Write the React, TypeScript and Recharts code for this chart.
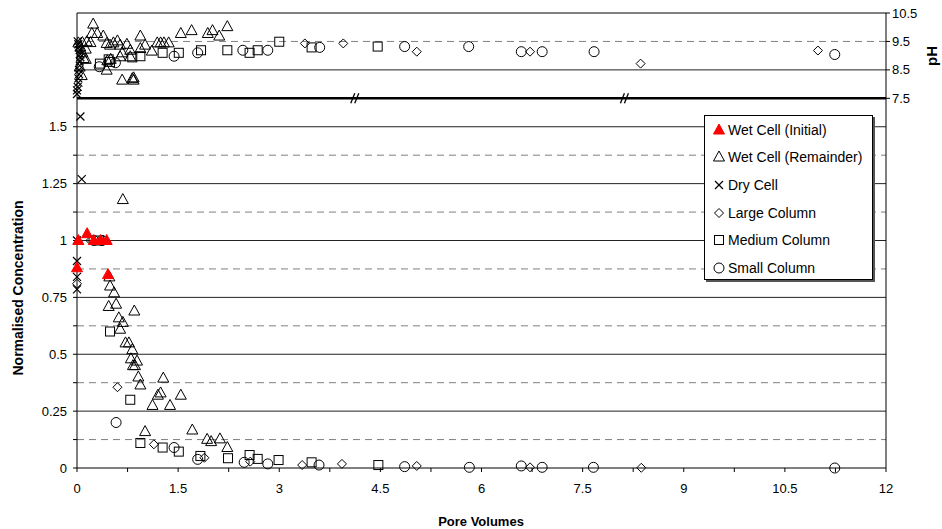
import React from 'react';
import { ScatterChart, Scatter, XAxis, YAxis, ReferenceLine, ReferenceDot } from 'recharts';

type Pt = [number, number];

// x ticks every 0.75, labelled every 1.5
const xTicks = [0, 0.75, 1.5, 2.25, 3, 3.75, 4.5, 5.25, 6, 6.75, 7.5, 8.25, 9, 9.75, 10.5, 11.25, 12];
const concTicks = [0, 0.125, 0.25, 0.375, 0.5, 0.625, 0.75, 0.875, 1, 1.125, 1.25, 1.375, 1.5];
const phTicks = [7.5, 8.5, 9.5, 10.5];
const concSolid = [0.25, 0.5, 0.75, 1, 1.25, 1.5];
const concDashed = [0.125, 0.375, 0.625, 0.875, 1.125, 1.375];
const breakMarks = [4.12, 8.12];

// normalised concentration (bottom panel)
const wetInitialConc: Pt[] = [[0.02, 1.0], [0.15, 1.03], [0.25, 1.0], [0.35, 1.0], [0.44, 1.0], [0, 0.88], [0.46, 0.85]];
const wetRemainderConc: Pt[] = [
  [0.68, 1.18], [0.48, 0.84], [0.49, 0.8], [0.55, 0.77], [0.47, 0.71], [0.58, 0.72], [0.85, 0.69], [0.62, 0.66],
  [0.68, 0.64], [0.64, 0.61], [0.72, 0.55], [0.77, 0.55], [0.82, 0.52], [0.8, 0.48], [0.89, 0.47], [0.83, 0.45],
  [0.86, 0.45], [0.91, 0.4], [1.28, 0.395], [0.94, 0.365], [1.24, 0.33], [1.2, 0.32], [1.54, 0.32], [1.12, 0.275],
  [1.38, 0.275], [1.01, 0.16], [1.71, 0.167], [1.93, 0.126], [1.99, 0.116], [2.12, 0.128], [2.23, 0.09],
];
const dryConc: Pt[] = [[0.05, 1.545], [0.07, 1.27], [0, 1.0], [0, 0.91], [0, 0.84], [0, 0.785]];
const largeConc: Pt[] = [
  [0, 0.81], [0.2, 1.0], [0.6, 0.355], [1.14, 0.104], [1.89, 0.045], [2.57, 0.028], [3.34, 0.013], [3.93, 0.018],
  [5.04, 0.009], [6.72, 0.003], [8.37, 0.001],
];
const mediumConc: Pt[] = [
  [0.33, 1.0], [0.49, 0.6], [0.79, 0.3], [0.94, 0.11], [1.27, 0.09], [1.51, 0.072], [1.83, 0.053], [2.24, 0.043],
  [2.56, 0.057], [2.68, 0.04], [2.99, 0.035], [3.48, 0.025], [4.47, 0.013],
];
const smallConc: Pt[] = [
  [0.25, 1.0], [0.37, 1.0], [0.58, 0.2], [1.44, 0.09], [1.79, 0.038], [2.48, 0.025], [2.83, 0.018], [3.59, 0.013],
  [4.86, 0.006], [5.82, 0.003], [6.59, 0.009], [6.9, 0.003], [7.66, 0.003], [11.24, 0],
];

// pH (top panel)
const wetRemainderPH: Pt[] = [
  [0.24, 10.11], [0.22, 9.78], [0.3, 9.78], [0.39, 9.69], [0.145, 9.49], [0.44, 9.43], [0.54, 9.45], [0.49, 9.37],
  [0.64, 9.37], [0.74, 9.4], [0.94, 9.69], [1.01, 9.37], [0.79, 9.19], [0.67, 9.1], [0.94, 9.25], [1.11, 9.16],
  [1.19, 9.45], [1.24, 9.45], [1.29, 9.45], [1.36, 9.45], [1.54, 9.78], [1.7, 9.88], [1.94, 9.78], [2.01, 9.88],
  [2.11, 9.69], [2.23, 10.02], [0.64, 8.96], [0.79, 8.96], [0.44, 8.49], [0.67, 8.14], [0.82, 8.19], [0.84, 8.14],
  [0.84, 8.22], [0.13, 9.23], [0.2, 9.46], [0.08, 9.46], [0.45, 8.82], [0.5, 8.87], [0.13, 8.87], [0.6, 9.52],
  [0.02, 9.45], [0.05, 9.3], [0.08, 9.1], [0.1, 8.9], [0.04, 8.6], [0.07, 8.3],
];
const dryPH: Pt[] = [
  [0, 7.65], [0, 7.78], [0.01, 7.9], [0.02, 8.05], [0.02, 8.2], [0.03, 8.35], [0.03, 8.5], [0.04, 8.65],
  [0.04, 8.8], [0.05, 8.95], [0.05, 9.05], [0.04, 9.2], [0.03, 9.3], [0.02, 9.4], [0.01, 9.5],
];
const largePH: Pt[] = [[3.38, 9.43], [3.95, 9.43], [5.04, 9.14], [6.72, 9.14], [8.36, 8.72], [10.99, 9.18]];
const mediumPH: Pt[] = [
  [0.34, 8.72], [0.47, 8.87], [0.49, 8.78], [0.82, 8.94], [0.94, 8.98], [1.27, 9.1], [1.51, 9.1], [1.84, 9.19],
  [2.23, 9.19], [2.56, 9.1], [2.68, 9.19], [3.0, 9.49], [3.48, 9.29], [4.46, 9.32],
];
const smallPH: Pt[] = [
  [0.33, 8.61], [0.57, 8.75], [1.44, 8.98], [1.79, 9.1], [2.46, 9.19], [2.83, 9.19], [3.6, 9.29], [4.86, 9.32],
  [5.81, 9.32], [6.59, 9.14], [6.9, 9.14], [7.67, 9.14], [11.24, 9.04],
];

const toXY = (pts: Pt[]) => pts.map(([x, y]) => ({ x, y }));

const FONT = '"Liberation Sans", Arial, sans-serif';

const triangle = (fill: string, stroke: string) => (p: any) => (
  <path d={`M${p.cx},${p.cy - 6}L${p.cx + 5.5},${p.cy + 4}L${p.cx - 5.5},${p.cy + 4}Z`} fill={fill} stroke={stroke} strokeWidth={1} />
);
const cross = (p: any) => (
  <path d={`M${p.cx - 4},${p.cy - 4}L${p.cx + 4},${p.cy + 4}M${p.cx - 4},${p.cy + 4}L${p.cx + 4},${p.cy - 4}`} stroke="#000" strokeWidth={1.2} fill="none" />
);
const diamond = (p: any) => (
  <path d={`M${p.cx},${p.cy - 4.5}L${p.cx + 4.5},${p.cy}L${p.cx},${p.cy + 4.5}L${p.cx - 4.5},${p.cy}Z`} fill="none" stroke="#000" strokeWidth={1} />
);
const square = (p: any) => (
  <rect x={p.cx - 4.5} y={p.cy - 4.5} width={9} height={9} fill="none" stroke="#000" strokeWidth={1} />
);
const circle = (p: any) => <circle cx={p.cx} cy={p.cy} r={5} fill="none" stroke="#000" strokeWidth={1} />;
const breakShape = (p: any) => (
  <g stroke="#000" strokeWidth={1.3}>
    <line x1={p.cx - 4} y1={p.cy + 5} x2={p.cx} y2={p.cy - 5} />
    <line x1={p.cx} y1={p.cy + 5} x2={p.cx + 4} y2={p.cy - 5} />
  </g>
);

const legendItems: { label: string; icon: (p: any) => React.ReactElement }[] = [
  { label: 'Wet Cell (Initial)', icon: triangle('#ff0000', '#ff0000') },
  { label: 'Wet Cell (Remainder)', icon: triangle('none', '#000') },
  { label: 'Dry Cell', icon: cross },
  { label: 'Large Column', icon: diamond },
  { label: 'Medium Column', icon: square },
  { label: 'Small Column', icon: circle },
];

const tickStyle = { fill: '#000', fontSize: 13, fontFamily: FONT };

export default function App() {
  return (
    <div style={{ position: 'absolute', left: 0, top: 0, width: 942, height: 529, background: '#fff', fontFamily: FONT }}>
      <ScatterChart width={942} height={529} margin={{ top: 13, right: 6, bottom: 31, left: 17 }}>
        <XAxis
          type="number"
          dataKey="x"
          domain={[0, 12]}
          ticks={xTicks}
          interval={0}
          tickFormatter={(v: number) => (v % 1.5 === 0 ? String(v) : '')}
          tick={tickStyle}
          tickSize={4}
          tickMargin={12}
          height={30}
          stroke="#000"
        />
        <YAxis
          yAxisId="c"
          type="number"
          dataKey="y"
          domain={[0, 2]}
          ticks={concTicks}
          interval={0}
          tickFormatter={(v: number) => (v % 0.25 === 0 ? String(v) : '')}
          tick={tickStyle}
          tickSize={4}
          tickMargin={6}
          width={60}
          stroke="#000"
        />
        <YAxis
          yAxisId="p"
          orientation="right"
          type="number"
          dataKey="y"
          domain={[-5.5, 10.5]}
          ticks={phTicks}
          interval={0}
          tick={tickStyle}
          tickSize={4}
          width={50}
          stroke="#000"
        />
        {concDashed.map((v) => (
          <ReferenceLine key={'d' + v} yAxisId="c" y={v} stroke="#808080" strokeDasharray="7 5" />
        ))}
        {concSolid.map((v) => (
          <ReferenceLine key={'s' + v} yAxisId="c" y={v} stroke="#222" />
        ))}
        <ReferenceLine yAxisId="p" y={9.5} stroke="#808080" strokeDasharray="7 5" />
        <ReferenceLine yAxisId="p" y={8.5} stroke="#222" />
        <ReferenceLine yAxisId="p" y={7.5} stroke="#000" strokeWidth={2.5} />
        <ReferenceLine yAxisId="p" y={10.5} stroke="#000" />
        {breakMarks.map((v) => (
          <ReferenceDot key={'b' + v} yAxisId="p" x={v} y={7.5} r={0} shape={breakShape} />
        ))}

        <Scatter yAxisId="c" data={toXY(smallConc)} shape={circle} isAnimationActive={false} />
        <Scatter yAxisId="c" data={toXY(mediumConc)} shape={square} isAnimationActive={false} />
        <Scatter yAxisId="c" data={toXY(largeConc)} shape={diamond} isAnimationActive={false} />
        <Scatter yAxisId="c" data={toXY(dryConc)} shape={cross} isAnimationActive={false} />
        <Scatter yAxisId="c" data={toXY(wetRemainderConc)} shape={triangle('none', '#000')} isAnimationActive={false} />
        <Scatter yAxisId="c" data={toXY(wetInitialConc)} shape={triangle('#ff0000', '#ff0000')} isAnimationActive={false} />

        <Scatter yAxisId="p" data={toXY(smallPH)} shape={circle} isAnimationActive={false} />
        <Scatter yAxisId="p" data={toXY(mediumPH)} shape={square} isAnimationActive={false} />
        <Scatter yAxisId="p" data={toXY(largePH)} shape={diamond} isAnimationActive={false} />
        <Scatter yAxisId="p" data={toXY(dryPH)} shape={cross} isAnimationActive={false} />
        <Scatter yAxisId="p" data={toXY(wetRemainderPH)} shape={triangle('none', '#000')} isAnimationActive={false} />
      </ScatterChart>

      {/* legend */}
      <div
        style={{
          position: 'absolute', left: 704, top: 115, width: 169, height: 165, background: '#fff',
          border: '1px solid #000', boxShadow: '2px 2px 0 #555', boxSizing: 'border-box',
        }}
      >
        {legendItems.map((it) => (
          <div key={it.label} style={{ height: 27.6, display: 'flex', alignItems: 'center', fontSize: 14, color: '#000' }}>
            <svg width={22} height={14} style={{ flex: 'none' }}>{it.icon({ cx: 14, cy: 7 })}</svg>
            <span style={{ marginLeft: 1, whiteSpace: 'nowrap' }}>{it.label}</span>
          </div>
        ))}
      </div>

      {/* axis titles */}
      <div style={{ position: 'absolute', left: 481, top: 521, transform: 'translate(-50%, -50%)', fontWeight: 'bold', fontSize: 13, whiteSpace: 'nowrap' }}>
        Pore Volumes
      </div>
      <div style={{ position: 'absolute', left: 18, top: 288, transform: 'translate(-50%, -50%) rotate(-90deg)', fontWeight: 'bold', fontSize: 14, whiteSpace: 'nowrap' }}>
        Normalised Concentration
      </div>
      <div style={{ position: 'absolute', left: 931, top: 56, transform: 'translate(-50%, -50%) rotate(-90deg)', fontWeight: 'bold', fontSize: 15, whiteSpace: 'nowrap' }}>
        pH
      </div>
    </div>
  );
}
